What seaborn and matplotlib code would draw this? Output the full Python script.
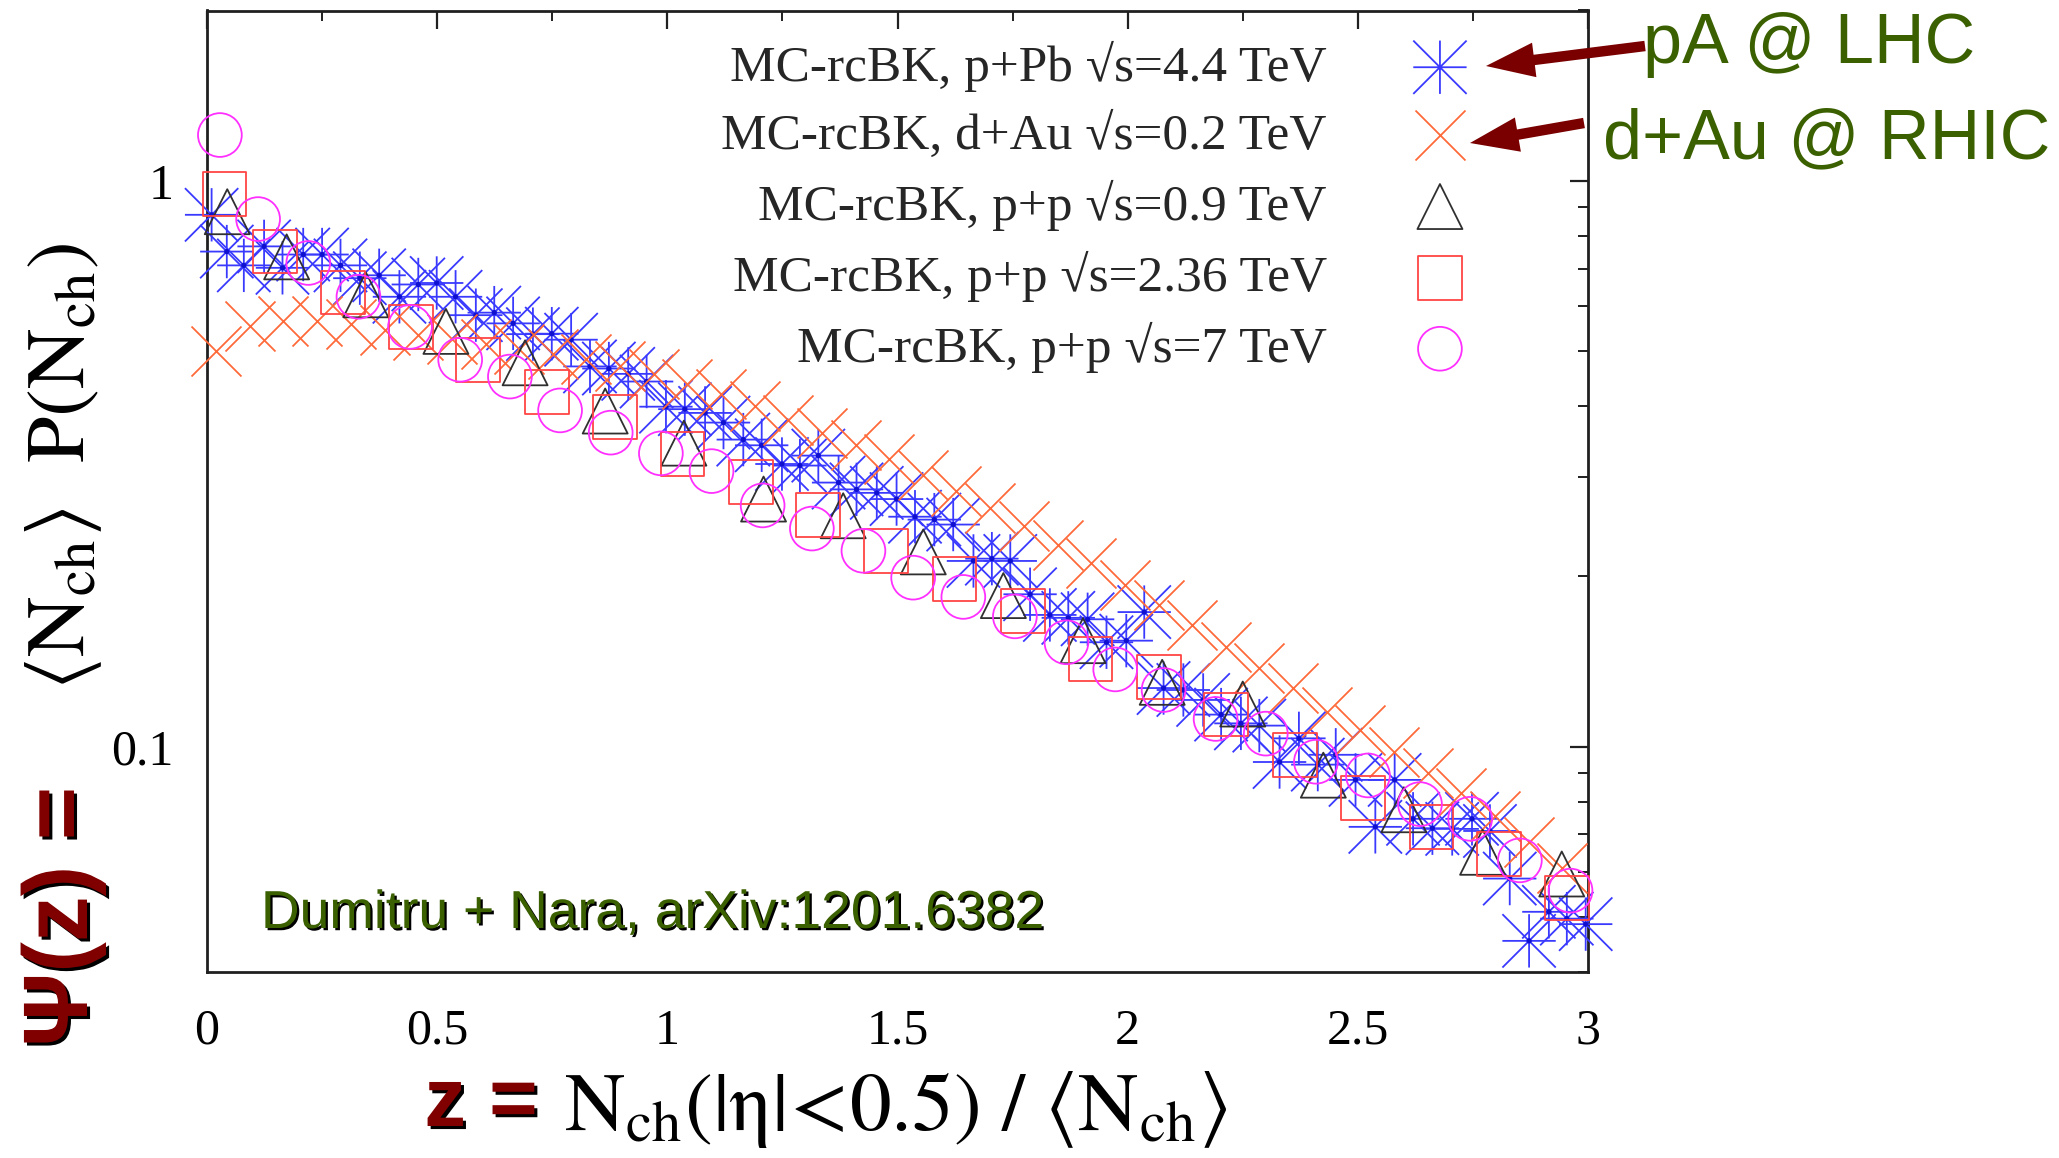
import numpy as np
import pandas as pd
import matplotlib
matplotlib.use("Agg")
import matplotlib.pyplot as plt
import seaborn as sns
from matplotlib import font_manager
from matplotlib.path import Path
from matplotlib.ticker import MultipleLocator, LogLocator, FixedLocator, NullFormatter, FuncFormatter
import matplotlib.patheffects as pe

# ---------------- data ----------------
pA_z = [0.010, 0.043, 0.080, 0.124, 0.164, 0.209, 0.250, 0.290, 0.332, 0.374,
        0.418, 0.459, 0.499, 0.540, 0.584, 0.624, 0.665, 0.708, 0.749, 0.791,
        0.832, 0.873, 0.915, 0.955, 0.997, 1.038, 1.082, 1.122, 1.165, 1.205,
        1.249, 1.288, 1.328, 1.372, 1.411, 1.455, 1.498, 1.538, 1.580, 1.621,
        1.665, 1.705, 1.745, 1.788, 1.831, 1.871, 1.913, 1.954, 1.997, 2.036,
        2.078, 2.121, 2.164, 2.203, 2.246, 2.286, 2.330, 2.372, 2.413, 2.452,
        2.495, 2.538, 2.580, 2.620, 2.662, 2.705, 2.748, 2.787, 2.830, 2.872,
        2.915, 2.954, 2.995]
pA_psi = [0.871, 0.750, 0.709, 0.766, 0.702, 0.741, 0.741, 0.709, 0.673, 0.681,
          0.624, 0.656, 0.660, 0.624, 0.579, 0.585, 0.560, 0.536, 0.537, 0.524,
          0.470, 0.466, 0.456, 0.442, 0.399, 0.395, 0.389, 0.374, 0.349, 0.341,
          0.316, 0.314, 0.327, 0.293, 0.285, 0.281, 0.274, 0.255, 0.252, 0.247,
          0.213, 0.215, 0.213, 0.186, 0.171, 0.169, 0.168, 0.153, 0.154, 0.173,
          0.127, 0.126, 0.121, 0.114, 0.110, 0.109, 0.094, 0.1035, 0.093, 0.0968,
          0.0874, 0.0722, 0.0874, 0.0746, 0.0718, 0.0716, 0.0746, 0.0710, 0.0585, 0.0454,
          0.0511, 0.0497, 0.0486]

dAu_z = [0.020, 0.093, 0.166, 0.239, 0.312, 0.386, 0.459, 0.532, 0.605, 0.678,
         0.751, 0.824, 0.897, 0.970, 1.043, 1.117, 1.190, 1.263, 1.336, 1.409,
         1.482, 1.555, 1.628, 1.701, 1.774, 1.848, 1.921, 1.994, 2.067, 2.140,
         2.213, 2.286, 2.359, 2.432, 2.505, 2.579, 2.652, 2.725, 2.798, 2.871,
         2.944]
dAu_psi = [0.500, 0.555, 0.565, 0.565, 0.558, 0.545, 0.535, 0.525, 0.515, 0.505,
           0.495, 0.485, 0.470, 0.455, 0.437, 0.420, 0.400, 0.378, 0.358, 0.342,
           0.322, 0.302, 0.283, 0.264, 0.246, 0.227, 0.211, 0.193, 0.178, 0.164,
           0.150, 0.138, 0.127, 0.115, 0.107, 0.098, 0.090, 0.083, 0.0755, 0.068,
           0.061]

pp09_z = [0.044, 0.173, 0.345, 0.519, 0.691, 0.865, 1.036, 1.209, 1.382, 1.556,
          1.730, 1.903, 2.075, 2.250, 2.425, 2.600, 2.771, 2.943]
pp09_psi = [0.882, 0.734, 0.629, 0.542, 0.477, 0.392, 0.344, 0.274, 0.256, 0.221,
            0.185, 0.154, 0.130, 0.119, 0.0891, 0.0774, 0.0651, 0.0596]

pp236_z = [0.038, 0.148, 0.295, 0.443, 0.589, 0.738, 0.886, 1.033, 1.181, 1.328,
           1.475, 1.624, 1.772, 1.919, 2.068, 2.213, 2.364, 2.511, 2.660, 2.806,
           2.954]
pp236_psi = [0.948, 0.750, 0.635, 0.552, 0.482, 0.423, 0.383, 0.329, 0.294, 0.257,
             0.222, 0.198, 0.174, 0.143, 0.133, 0.114, 0.0968, 0.0813, 0.0722, 0.0647,
             0.0540]

pp7_z = [0.028, 0.111, 0.220, 0.329, 0.441, 0.550, 0.658, 0.767, 0.877, 0.986,
         1.096, 1.207, 1.314, 1.426, 1.534, 1.643, 1.755, 1.867, 1.973, 2.078,
         2.191, 2.300, 2.409, 2.522, 2.635, 2.744, 2.852, 2.962]
pp7_psi = [1.205, 0.856, 0.716, 0.624, 0.552, 0.483, 0.451, 0.393, 0.359, 0.330,
           0.307, 0.267, 0.243, 0.222, 0.199, 0.184, 0.170, 0.153, 0.137, 0.126,
           0.112, 0.1055, 0.0941, 0.0890, 0.0792, 0.0746, 0.0630, 0.0557]

labels = ["MC-rcBK, p+Pb \u221as=4.4 TeV",
          "MC-rcBK, d+Au \u221as=0.2 TeV",
          "MC-rcBK, p+p \u221as=0.9 TeV",
          "MC-rcBK, p+p \u221as=2.36 TeV",
          "MC-rcBK, p+p \u221as=7 TeV"]
x_ticks = [0, 0.5, 1, 1.5, 2, 2.5, 3]
y_ticks = [0.1, 1]

# ---------------- style ----------------
sns.set_theme(style="white")
plt.rcParams["font.family"] = ["Liberation Serif", "DejaVu Serif"]
plt.rcParams["mathtext.fontset"] = "stix"

installed = {f.name for f in font_manager.fontManager.ttflist}
if "Liberation Sans Narrow" in installed:
    psi_family, psi_size = "Liberation Sans Narrow", 76
else:
    psi_family, psi_size = "Liberation Sans", 66

W, H = 2059, 1158
fig = plt.figure(figsize=(W / 100, H / 100), dpi=100)
fig.patch.set_facecolor("white")
L, R, T, B = 207, 1588, 10.5, 972
ax = fig.add_axes([L / W, 1 - B / H, (R - L) / W, (B - T) / H])
ax.set_facecolor("white")

# asterisk marker (+ and x overlaid)
star = Path([(-1, 0), (1, 0), (0, -1), (0, 1), (-1, -1), (1, 1), (-1, 1), (1, -1)],
            [Path.MOVETO, Path.LINETO] * 4)

MS = 30.0  # marker size in points
lw = 1.3

df_pA = pd.DataFrame({"z": pA_z, "psi": pA_psi})
df_dAu = pd.DataFrame({"z": dAu_z, "psi": dAu_psi})
df_09 = pd.DataFrame({"z": pp09_z, "psi": pp09_psi})
df_236 = pd.DataFrame({"z": pp236_z, "psi": pp236_psi})
df_7 = pd.DataFrame({"z": pp7_z, "psi": pp7_psi})

sns.scatterplot(data=df_pA, x="z", y="psi", ax=ax, marker=star, s=(MS * 1.28) ** 2,
                facecolor="none", edgecolor="#3a3aff", linewidth=lw, label=labels[0],
                clip_on=False, zorder=3)
sns.scatterplot(data=df_pA, x="z", y="psi", ax=ax, marker="o", s=14,
                color="#1010d0", edgecolor="none", linewidth=0, legend=False,
                clip_on=False, zorder=3)
sns.scatterplot(data=df_dAu, x="z", y="psi", ax=ax, marker="x", s=(MS * 1.2) ** 2,
                color="#ff6a3a", linewidth=lw, label=labels[1], clip_on=False, zorder=4)
sns.scatterplot(data=df_09, x="z", y="psi", ax=ax, marker="^", s=(MS * 1.08) ** 2,
                facecolor="none", edgecolor="#303030", linewidth=lw, label=labels[2],
                clip_on=False, zorder=5)
sns.scatterplot(data=df_236, x="z", y="psi", ax=ax, marker="s", s=(MS * 1.05) ** 2,
                facecolor="none", edgecolor="#ff4444", linewidth=lw, label=labels[3],
                clip_on=False, zorder=6)
sns.scatterplot(data=df_7, x="z", y="psi", ax=ax, marker="o", s=(MS * 1.05) ** 2,
                facecolor="none", edgecolor="#ff30ff", linewidth=lw, label=labels[4],
                clip_on=False, zorder=7)

ax.set_yscale("log")
ax.set_xlim(0, 3)
ax.set_ylim(0.04, 2.0)
ax.set_xlabel("")
ax.set_ylabel("")

ax.xaxis.set_major_locator(FixedLocator(x_ticks))
ax.xaxis.set_minor_locator(MultipleLocator(0.25))
ax.xaxis.set_major_formatter(FuncFormatter(lambda v, p: "%g" % v))
ax.yaxis.set_major_locator(FixedLocator(y_ticks))
ax.yaxis.set_minor_locator(LogLocator(base=10, subs=np.arange(2, 10) * 1.0, numticks=20))
ax.yaxis.set_minor_formatter(NullFormatter())
ax.yaxis.set_major_formatter(FuncFormatter(lambda v, p: "%g" % v))

for s in ax.spines.values():
    s.set_visible(True)
    s.set_linewidth(2.0)
    s.set_color("#202020")
ax.tick_params(which="both", direction="in", top=True, right=True, color="#202020")
ax.tick_params(which="major", length=13, width=1.6, labelsize=36, labelcolor="black")
ax.tick_params(which="minor", length=7, width=1.4)
ax.tick_params(axis="x", which="major", pad=26)
ax.tick_params(axis="y", which="major", pad=24)

leg = ax.legend(loc="upper right", bbox_to_anchor=(0.93, 0.99), borderaxespad=0.0,
                frameon=False, markerfirst=False, fontsize=37, handlelength=1.2,
                handletextpad=1.6, labelspacing=0.39, scatterpoints=1)

# ---------------- annotations ----------------
def fx(x):
    return x / W

def fy(y):
    return 1 - y / H

green = "#3a6000"
darkred = "#7a0000"
shadow = [pe.withSimplePatchShadow(offset=(2.2, -2.2), shadow_rgbFace="black", alpha=1.0)]

fig.text(fx(1643), fy(63), "pA @ LHC", color=green, fontsize=50.5,
         family="Liberation Sans", ha="left", va="baseline")
fig.text(fx(1603), fy(158), "d+Au @ RHIC", color=green, fontsize=50.5,
         family="Liberation Sans", ha="left", va="baseline")

for (x0, y0, x1, y1) in [(1645, 46, 1486, 66), (1584, 123, 1470, 143)]:
    ax.annotate("", xy=(x1, H - y1), xycoords="figure pixels",
                xytext=(x0, H - y0), textcoords="figure pixels",
                arrowprops=dict(arrowstyle="simple,head_length=1.4,head_width=1.0,tail_width=0.3",
                                fc=darkred, ec="none", mutation_scale=25,
                                shrinkA=0, shrinkB=0),
                annotation_clip=False)

t = fig.text(fx(261), fy(928), "Dumitru + Nara, arXiv:1201.6382", color=green,
             fontsize=38.5, family="Liberation Sans", ha="left", va="baseline")
t.set_path_effects([pe.withSimplePatchShadow(offset=(1.6, -1.6), shadow_rgbFace="black", alpha=1.0)])

# axis labels (coloured prefix + serif formula)
t = fig.text(fx(63), fy(917), "\u03a8(z) =", color="#800000", fontsize=psi_size,
             family=psi_family, weight="bold", rotation=90, ha="center", va="center")
t.set_path_effects(shadow)
fig.text(fx(64), fy(466), r"$\langle\mathrm{N}_{\mathrm{ch}}\rangle\ \ \mathrm{P}(\mathrm{N}_{\mathrm{ch}})$",
         color="black", fontsize=60, rotation=90, ha="center", va="center")

t = fig.text(fx(481), fy(1104), "z =", color="#800000", fontsize=60,
             family="Liberation Sans", weight="bold", ha="center", va="center")
t.set_path_effects(shadow)
fig.text(fx(896), fy(1110), r"$\mathrm{N}_{\mathrm{ch}}(|\mathrm{η}|\!<\!0.5)\ /\ \langle\mathrm{N}_{\mathrm{ch}}\rangle$",
         color="black", fontsize=60, ha="center", va="center")

fig.savefig("out.png", dpi=100, facecolor="white")
